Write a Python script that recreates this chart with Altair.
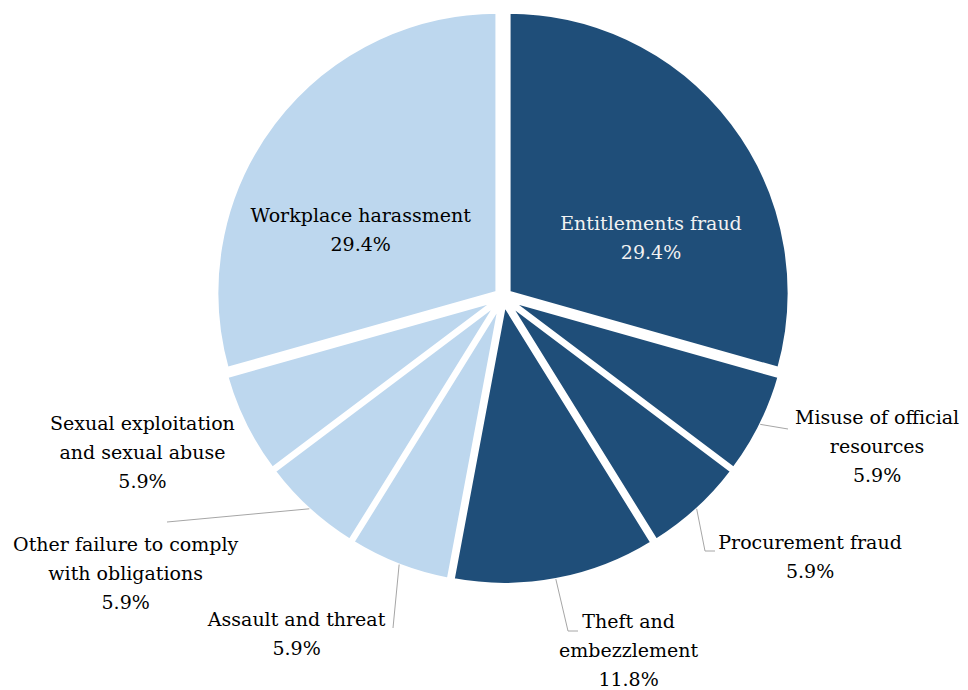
import math
import altair as alt
import pandas as pd

# ---- data ----
categories = [
    "Entitlements fraud",
    "Misuse of official resources",
    "Procurement fraud",
    "Theft and embezzlement",
    "Assault and threat",
    "Other failure to comply with obligations",
    "Sexual exploitation and sexual abuse",
    "Workplace harassment",
]
shares = [29.4, 5.9, 5.9, 11.8, 5.9, 5.9, 5.9, 29.4]
groups = ["dark", "dark", "dark", "dark", "light", "light", "light", "light"]
label_text = [
    "Entitlements fraud",
    "Misuse of official\nresources",
    "Procurement fraud",
    "Theft and\nembezzlement",
    "Assault and threat",
    "Other failure to comply\nwith obligations",
    "Sexual exploitation\nand sexual abuse",
    "Workplace harassment",
]

# ---- layout (not data) ----
W, H = 968, 690
CX, CY = 503, 297          # pie centre in pixels
R = 281                    # pie radius
EXPLODE = 7                # slice explosion distance
LINE_H = 29
LABEL_RADIUS = [159, 403, 403, 376, 396, 468, 393, 157]
LABEL_TURN = [15.7, -4.5, -7.2, -8.9, 10.2, 11.3, 2.9, -12.2]   # degrees from slice middle
LABEL_INSIDE = [True, False, False, False, False, False, False, True]
LEADER_ENDS = {
    1: [(788, 429)],
    2: [(705, 551), (715, 551)],
    3: [(568, 631), (578, 631)],
    4: [(393, 628)],
    5: [(167, 522)],
}
COLORS = {"dark": "#1F4E79", "light": "#BDD7EE"}
FONT = "DejaVu Serif"
FONT_SIZE = 19

total = sum(shares)
rows, text_rows, line_rows = [], [], []
cum = 0.0
for i, (cat, v, g, lt) in enumerate(zip(categories, shares, groups, label_text)):
    mid = (cum + v / 2) / total * 2 * math.pi
    cum += v
    ox = CX + EXPLODE * math.sin(mid)
    oy = CY - EXPLODE * math.cos(mid)
    rows.append({"cat": cat, "value": v, "group": g, "idx": i, "cx": ox, "cy": oy})
    a = mid + math.radians(LABEL_TURN[i])
    label = f"{lt}\n{v}%"
    n_lines = label.count("\n") + 1
    inside = LABEL_INSIDE[i] and g == "dark"
    text_rows.append({
        "cat": cat,
        "label": label,
        "tone": "onDark" if inside else "normal",
        "x": CX + LABEL_RADIUS[i] * math.sin(a),
        "y": CY - LABEL_RADIUS[i] * math.cos(a) - (n_lines - 1) * LINE_H / 2,
    })
    if i in LEADER_ENDS:
        sx = ox + (R - 1) * math.sin(mid)
        sy = oy - (R - 1) * math.cos(mid)
        pts = [(sx, sy)] + LEADER_ENDS[i]
        for k, (px, py) in enumerate(pts):
            line_rows.append({"cat": cat, "k": k, "x": px, "y": py})

slices = pd.DataFrame(rows)
labels = pd.DataFrame(text_rows)
leaders = pd.DataFrame(line_rows)

pie = alt.Chart(slices).mark_arc(radius=R, stroke="white", strokeWidth=4).encode(
    theta=alt.Theta("value:Q", stack=True),
    order=alt.Order("idx:Q"),
    color=alt.Color("group:N", scale=alt.Scale(domain=list(COLORS), range=list(COLORS.values())), legend=None),
    x=alt.X("cx:Q", scale=None, axis=None),
    y=alt.Y("cy:Q", scale=None, axis=None),
)

lines = alt.Chart(leaders).mark_line(color="#A6A6A6", strokeWidth=1).encode(
    x=alt.X("x:Q", scale=None, axis=None),
    y=alt.Y("y:Q", scale=None, axis=None),
    detail="cat:N",
    order="k:Q",
)

text = alt.Chart(labels).mark_text(
    font=FONT, fontSize=FONT_SIZE, lineBreak="\n", lineHeight=LINE_H,
    align="center", baseline="middle",
).encode(
    x=alt.X("x:Q", scale=None, axis=None),
    y=alt.Y("y:Q", scale=None, axis=None),
    text="label:N",
    color=alt.Color("tone:N", scale=alt.Scale(domain=["onDark", "normal"], range=["#F2F2F2", "#000000"]), legend=None),
)

chart = alt.layer(pie, lines, text).resolve_scale(color="independent").properties(
    width=W, height=H, padding=0, autosize="none", background="white"
).configure_view(stroke=None)

chart.save("out.html", embed_options={"renderer": "svg", "actions": False})
